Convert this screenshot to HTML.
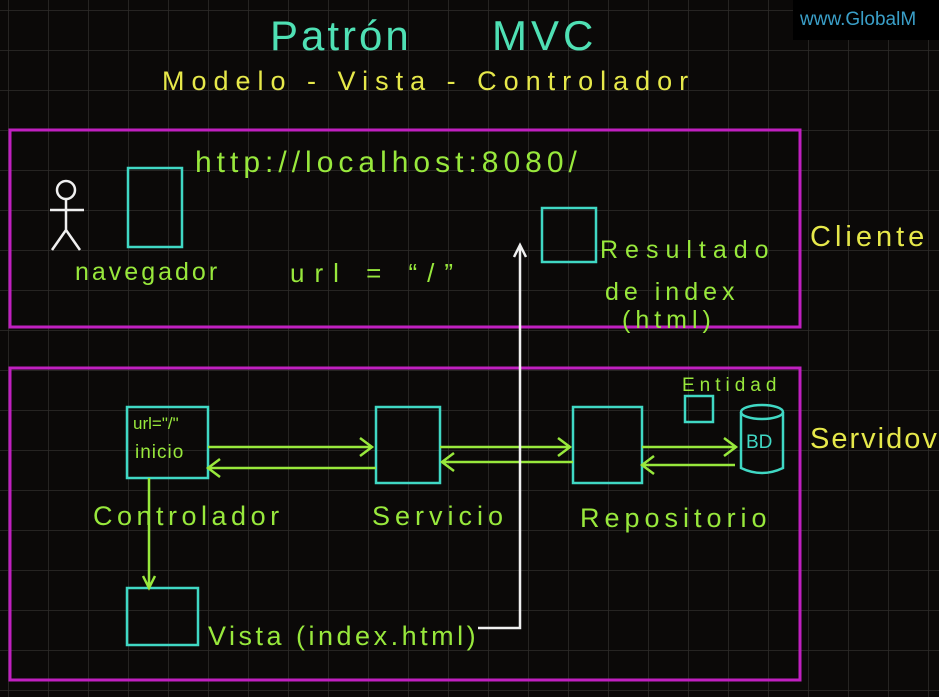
<!DOCTYPE html>
<html><head><meta charset="utf-8"><style>
html,body{margin:0;padding:0;background:#0b0908;}
svg{display:block}
text{font-family:"Liberation Sans",sans-serif;}
</style></head><body>
<svg width="939" height="697" viewBox="0 0 939 697" xmlns="http://www.w3.org/2000/svg">
<defs>
<pattern id="g" x="8" y="10" width="40" height="40" patternUnits="userSpaceOnUse">
<path d="M0 0H40M0 0V40" stroke="#2f2d2b" stroke-width="1.5" fill="none"/>
</pattern>
</defs>
<rect width="939" height="697" fill="#0b0908"/>
<rect width="939" height="697" fill="url(#g)"/>
<rect x="793" y="0" width="146" height="40" fill="#000"/>
<text x="800" y="25" font-size="19" fill="#3a9fc8">www.GlobalM</text>
<text x="270" y="50" font-size="42" fill="#4fe0b4" letter-spacing="3">Patrón</text>
<text x="492" y="50" font-size="42" fill="#4fe0b4" letter-spacing="4">MVC</text>
<text x="162" y="90" font-size="27" fill="#e6e84a" letter-spacing="7">Modelo - Vista - Controlador</text>
<rect x="10" y="130" width="790" height="197" fill="none" stroke="#c020c0" stroke-width="3"/>
<rect x="10" y="368" width="790" height="312" fill="none" stroke="#c020c0" stroke-width="3"/>
<text x="810" y="246" font-size="29" fill="#e6e84a" letter-spacing="4">Cliente</text>
<text x="810" y="448" font-size="29" fill="#e6e84a" letter-spacing="2">Servidov</text>
<g stroke="#f0f0f0" stroke-width="2.5" fill="none">
<circle cx="66" cy="190" r="9"/>
<path d="M66 199V230M50 210H84M66 230L52 250M66 230L80 250"/>
</g>
<rect x="128" y="168" width="54" height="79" fill="none" stroke="#40d8c4" stroke-width="2.5"/>
<text x="75" y="280" font-size="25" fill="#98e83c" letter-spacing="3">navegador</text>
<text x="195" y="172" font-size="30" fill="#98e83c" letter-spacing="5">http://localhost:8080/</text>
<text x="290" y="282" font-size="26" fill="#98e83c" letter-spacing="10">url = “/”</text>
<rect x="542" y="208" width="54" height="54" fill="none" stroke="#40d8c4" stroke-width="2.5"/>
<text x="600" y="258" font-size="25" fill="#98e83c" letter-spacing="7">Resultado</text>
<text x="605" y="300" font-size="25" fill="#98e83c" letter-spacing="5">de index</text>
<text x="622" y="328" font-size="25" fill="#98e83c" letter-spacing="5">(html)</text>
<g fill="none" stroke="#40d8c4" stroke-width="2.5">
<rect x="127" y="407" width="81" height="71"/>
<rect x="376" y="407" width="64" height="76"/>
<rect x="573" y="407" width="69" height="76"/>
<rect x="685" y="396" width="28" height="26"/>
<path d="M741 412V468Q762 478 783 468V412"/>
<ellipse cx="762" cy="412" rx="21" ry="7"/>
<rect x="127" y="588" width="71" height="57"/>
</g>
<text x="746" y="448" font-size="19" fill="#40d8c4">BD</text>
<text x="682" y="391" font-size="19" fill="#98e83c" letter-spacing="5">Entidad</text>
<text x="133" y="429" font-size="17" fill="#98e83c">url="/"</text>
<text x="135" y="458" font-size="19" fill="#98e83c" letter-spacing="1">inicio</text>
<text x="93" y="525" font-size="27" fill="#98e83c" letter-spacing="4.5">Controlador</text>
<text x="372" y="525" font-size="27" fill="#98e83c" letter-spacing="5">Servicio</text>
<text x="580" y="527" font-size="27" fill="#98e83c" letter-spacing="5">Repositorio</text>
<text x="208" y="645" font-size="27" fill="#98e83c" letter-spacing="3.5">Vista (index.html)</text>
<g fill="none" stroke="#98e83c" stroke-width="2.5">
<path d="M208 447H372M360 438L372 447L360 456"/>
<path d="M376 468H208M220 459L208 468L220 477"/>
<path d="M440 447H570M558 438L570 447L558 456"/>
<path d="M573 462H442M454 453L442 462L454 471"/>
<path d="M642 447H736M724 438L736 447L724 456"/>
<path d="M735 465H642M654 456L642 465L654 474"/>
<path d="M149 478V588M143 576L149 588L155 576"/>
</g>
<path d="M478 628H520V245M514 257L520 245L526 257" fill="none" stroke="#f0f0f0" stroke-width="2.5"/>
</svg>
</body></html>
